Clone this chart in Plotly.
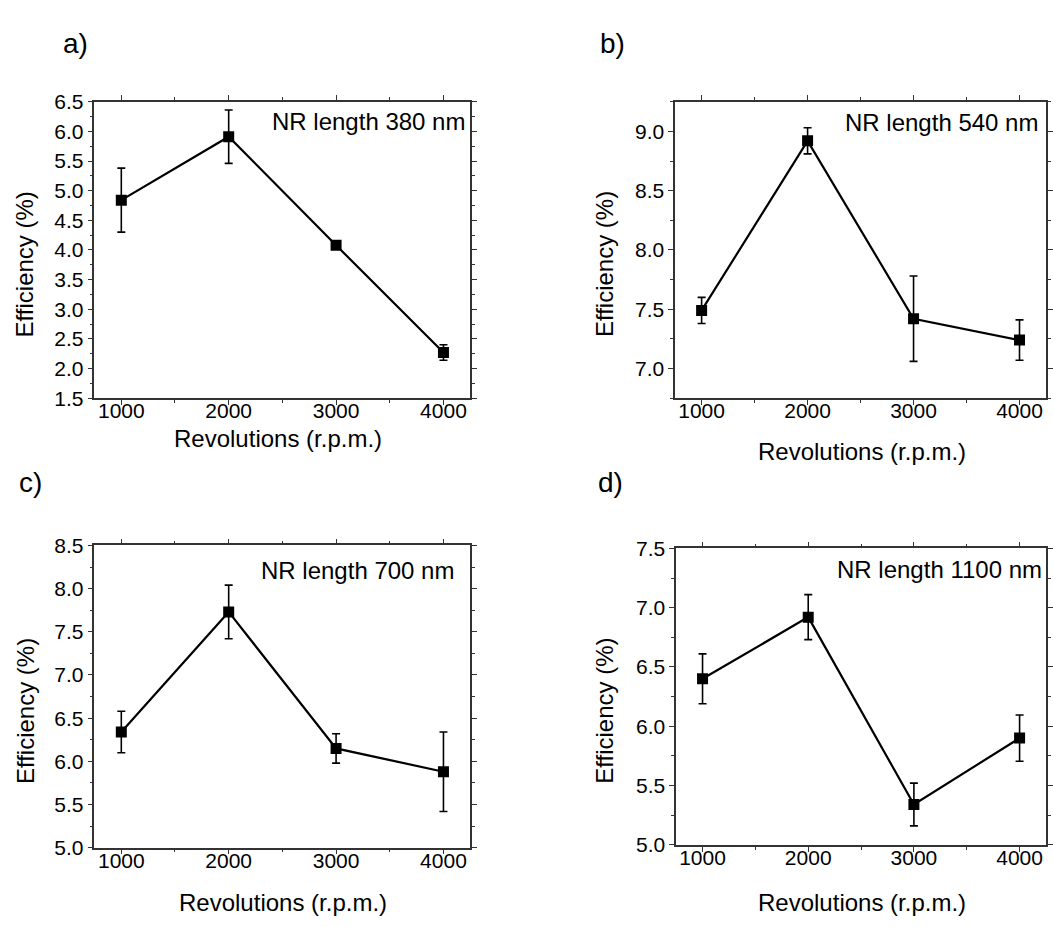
import plotly.graph_objects as go

W, H = 1053, 927

rpm = [1000, 2000, 3000, 4000]

eff_a = [4.84, 5.91, 4.08, 2.27]
err_a = [0.54, 0.45, 0.04, 0.13]
eff_b = [7.49, 8.92, 7.42, 7.24]
err_b = [0.11, 0.11, 0.36, 0.17]
eff_c = [6.34, 7.73, 6.15, 5.88]
err_c = [0.24, 0.31, 0.17, 0.46]
eff_d = [6.40, 6.92, 5.34, 5.90]
err_d = [0.21, 0.19, 0.18, 0.195]

panel_labels = ["a)", "b)", "c)", "d)"]
nr_labels = ["NR length 380 nm", "NR length 540 nm", "NR length 700 nm", "NR length 1100 nm"]
x_title = "Revolutions (r.p.m.)"
y_title = "Efficiency (%)"

y_ranges = [[1.5, 6.5], [6.75, 9.25], [5.0, 8.5], [5.0, 7.5]]
x_range = [750, 4250]

# pixel boxes of plot areas: (left, right, top, bottom)
boxes = [(95, 473, 92, 396), (679, 1052, 92, 396), (95, 473, 547, 857), (680, 1052, 550, 854)]

FONT = "Liberation Sans, Arial, sans-serif"
AX = "#333333"

fig = go.Figure()
series = [(eff_a, err_a), (eff_b, err_b), (eff_c, err_c), (eff_d, err_d)]
for i, (vals, errs) in enumerate(series):
    sfx = "" if i == 0 else str(i + 1)
    fig.add_trace(go.Scatter(
        x=rpm, y=vals, mode="lines+markers",
        line=dict(color="black", width=2.2),
        marker=dict(symbol="square", size=11, color="black"),
        error_y=dict(type="data", array=errs, visible=True, color="black", thickness=1.6, width=4),
        xaxis="x" + sfx, yaxis="y" + sfx, showlegend=False,
    ))

layout = dict(
    width=W, height=H, margin=dict(l=0, r=0, t=0, b=0),
    paper_bgcolor="white", plot_bgcolor="white",
    font=dict(family=FONT, color="black"),
    annotations=[],
)

for i, (l, r, t, b) in enumerate(boxes):
    sfx = "" if i == 0 else str(i + 1)
    xd = [l / W, r / W]
    yd = [1 - b / H, 1 - t / H]
    layout["xaxis" + sfx] = dict(
        domain=xd, range=x_range, anchor="y" + sfx,
        tickmode="linear", tick0=1000, dtick=1000,
        ticks="outside", ticklen=5, tickwidth=1.2, tickcolor=AX,
        ticklabelstandoff=-12,
        minor=dict(ticks="outside", ticklen=3, dtick=500, tick0=1000, tickcolor=AX),
        showline=True, linecolor=AX, linewidth=1.5, mirror="ticks",
        showgrid=False, zeroline=False,
        tickfont=dict(size=21, family=FONT, color="black"),
    )
    layout["yaxis" + sfx] = dict(
        domain=yd, range=y_ranges[i], anchor="x" + sfx,
        tickmode="linear", tick0=5.0, dtick=0.5, tickformat=".1f",
        ticks="outside", ticklen=5, tickwidth=1.2, tickcolor=AX,
        minor=dict(ticks="outside", ticklen=3, dtick=0.25, tick0=5.0, tickcolor=AX),
        showline=True, linecolor=AX, linewidth=1.5, mirror="ticks",
        showgrid=False, zeroline=False,
        tickfont=dict(size=21, family=FONT, color="black"),
    )

def ann(text, px, py, size, xanchor="center", yanchor="middle", angle=0):
    layout["annotations"].append(dict(
        text=text, x=px / W, y=1 - py / H, xref="paper", yref="paper",
        xanchor=xanchor, yanchor=yanchor, showarrow=False, textangle=angle,
        font=dict(size=size, family=FONT, color="black"),
    ))

# panel labels
ann(panel_labels[0], 61, 32, 28, xanchor="left")
ann(panel_labels[1], 601, 32, 28, xanchor="left")
ann(panel_labels[2], 17, 482, 28, xanchor="left")
ann(panel_labels[3], 599, 482, 28, xanchor="left")

# NR length labels
ann(nr_labels[0], 470, 112, 24, xanchor="right")
ann(nr_labels[1], 1046, 113, 24, xanchor="right")
ann(nr_labels[2], 459, 573, 24, xanchor="right")
ann(nr_labels[3], 1050, 572, 24, xanchor="right")

# axis titles
ann(y_title, 25, 259, 24, angle=-90)
ann(y_title, 608, 259, 24, angle=-90)
ann(y_title, 25, 717, 24, angle=-90)
ann(y_title, 608, 717, 24, angle=-90)
ann(x_title, 280, 437, 24)
ann(x_title, 867, 451, 24)
ann(x_title, 285, 913, 24)
ann(x_title, 867, 913, 24)

fig.update_layout(**layout)
fig.write_html("out.html")
